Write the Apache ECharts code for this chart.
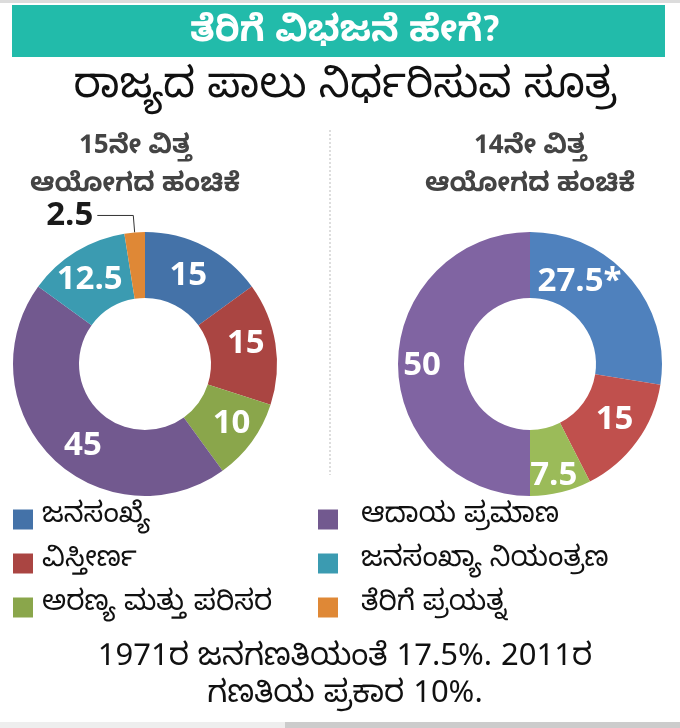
<!DOCTYPE html>
<html>
<head>
<meta charset="utf-8">
<script src="https://cdn.jsdelivr.net/npm/echarts@6/dist/echarts.min.js"></script>
<style>
html,body{margin:0;padding:0;background:#fff;}
#chart{width:680px;height:728px;}
</style>
</head>
<body>
<div id="chart"></div>
<script>
// ---- data ----
const categories = ['ಜನಸಂಖ್ಯೆ', 'ವಿಸ್ತೀರ್ಣ', 'ಅರಣ್ಯ ಮತ್ತು ಪರಿಸರ', 'ಆದಾಯ ಪ್ರಮಾಣ', 'ಜನಸಂಖ್ಯಾ ನಿಯಂತ್ರಣ', 'ತೆರಿಗೆ ಪ್ರಯತ್ನ'];
const share15 = [15, 15, 10, 45, 12.5, 2.5];
const share14 = [27.5, 15, 7.5, 50];
const note14 = ['*', '', '', ''];
const titleText = 'ತೆರಿಗೆ ವಿಭಜನೆ ಹೇಗೆ?';
const subtitleText = 'ರಾಜ್ಯದ ಪಾಲು ನಿರ್ಧರಿಸುವ ಸೂತ್ರ';
const header15 = '15ನೇ ವಿತ್ತ\nಆಯೋಗದ ಹಂಚಿಕೆ';
const header14 = '14ನೇ ವಿತ್ತ\nಆಯೋಗದ ಹಂಚಿಕೆ';
const footnote = '1971ರ ಜನಗಣತಿಯಂತೆ 17.5%. 2011ರ\nಗಣತಿಯ ಪ್ರಕಾರ 10%.';

// ---- styles ----
const colors15 = ['#4472a8', '#aa4542', '#8aa64b', '#72598f', '#3b9bb1', '#df8836'];
const colors14 = ['#4f81bd', '#c0504d', '#9bbb59', '#8064a2'];
const offsets15 = [[-3, 2], [0, -4], [4, 0], [10, 9], [-2, 3], [0, 0]];
const offsets14 = [[-28, -16], [2, -4], [0, 12], [-6, 2]];
const KN = '"Noto Sans Kannada", "Noto Sans", "Open Sans", sans-serif';
const NUM = '"Open Sans", "Noto Sans", sans-serif';

const chart = echarts.init(document.getElementById('chart'));

const data15 = categories.map((name, i) => {
  const d = {
    name: name,
    value: share15[i],
    itemStyle: { color: colors15[i] },
    label: { offset: offsets15[i] }
  };
  if (share15[i] < 5) {
    d.label = {
      position: 'outside',
      color: '#1a1a1a',
      fontSize: 33,
      fontWeight: 'bold',
      fontFamily: NUM,
      distanceToLabelLine: 4
    };
    d.labelLine = { show: true, length: 17, length2: 36, smooth: false, lineStyle: { color: '#333', width: 1 } };
  }
  return d;
});

const data14 = share14.map((v, i) => ({
  name: categories[i],
  value: v,
  note: note14[i],
  itemStyle: { color: colors14[i] },
  label: { offset: offsets14[i] }
}));

const legendCommon = {
  orient: 'vertical',
  icon: 'rect',
  itemWidth: 20,
  itemHeight: 20,
  itemGap: 15,
  padding: 0,
  selectedMode: false,
  textStyle: { fontSize: 28, lineHeight: 29, color: '#111', fontFamily: KN, padding: [0, 0, 0, 0] }
};

const option = {
  animation: false,
  backgroundColor: '#fff',
  graphic: [
    { type: 'rect', shape: { x: 0, y: 0, width: 680, height: 3 }, style: { fill: '#dcdcdc' } },
    { type: 'rect', shape: { x: 12, y: 5, width: 653, height: 52 }, style: { fill: '#22bbaa' } },
    { type: 'line', shape: { x1: 330, y1: 130, x2: 330, y2: 475 }, style: { stroke: '#bbbbbb', lineWidth: 1, lineDash: [2, 2] } },
    { type: 'rect', shape: { x: 0, y: 722, width: 285, height: 6 }, style: { fill: '#eeeeee' } },
    { type: 'rect', shape: { x: 285, y: 722, width: 395, height: 6 }, style: { fill: '#cccccc' } }
  ],
  title: [
    { text: titleText, left: 340, textAlign: 'center', top: 14, textStyle: { color: '#fff', fontSize: 36, fontWeight: 'bold', fontFamily: KN } },
    { text: subtitleText, left: 340, textAlign: 'center', top: 67, textStyle: { color: '#111', fontSize: 42, fontWeight: 'normal', fontFamily: KN } },
    { text: header15, left: 130, top: 126, textAlign: 'center', textStyle: { color: '#444', fontSize: 26, fontWeight: 'bold', lineHeight: 38, fontFamily: KN } },
    { text: header14, left: 525, top: 126, textAlign: 'center', textStyle: { color: '#444', fontSize: 26, fontWeight: 'bold', lineHeight: 38, fontFamily: KN } },
    { text: footnote, left: 340, top: 638, textAlign: 'center', textStyle: { color: '#111', fontSize: 31, fontWeight: 'normal', lineHeight: 37, fontFamily: KN } }
  ],
  legend: [
    Object.assign({}, legendCommon, { left: 13, top: 505, data: categories.slice(0, 3), textStyle: Object.assign({}, legendCommon.textStyle, { padding: [0, 0, 0, 4] }) }),
    Object.assign({}, legendCommon, { left: 318, top: 505, data: categories.slice(3, 6), textStyle: Object.assign({}, legendCommon.textStyle, { padding: [0, 0, 0, 18] }) })
  ],
  series: [
    {
      type: 'pie',
      name: '15',
      center: [145, 364],
      radius: [66, 132],
      startAngle: 90,
      clockwise: true,
      avoidLabelOverlap: false,
      silent: true,
      label: {
        show: true,
        position: 'inside',
        formatter: '{c}',
        color: '#fff',
        fontSize: 33,
        fontWeight: 'bold',
        fontFamily: NUM
      },
      labelLine: { show: false },
      data: data15
    },
    {
      type: 'pie',
      name: '14',
      center: [530, 364],
      radius: [66, 132],
      startAngle: 90,
      clockwise: true,
      avoidLabelOverlap: false,
      silent: true,
      label: {
        show: true,
        position: 'inside',
        formatter: p => p.value + (p.data.note || ''),
        color: '#fff',
        fontSize: 33,
        fontWeight: 'bold',
        fontFamily: NUM
      },
      labelLine: { show: false },
      data: data14
    }
  ]
};
chart.setOption(option);
</script>
</body>
</html>
